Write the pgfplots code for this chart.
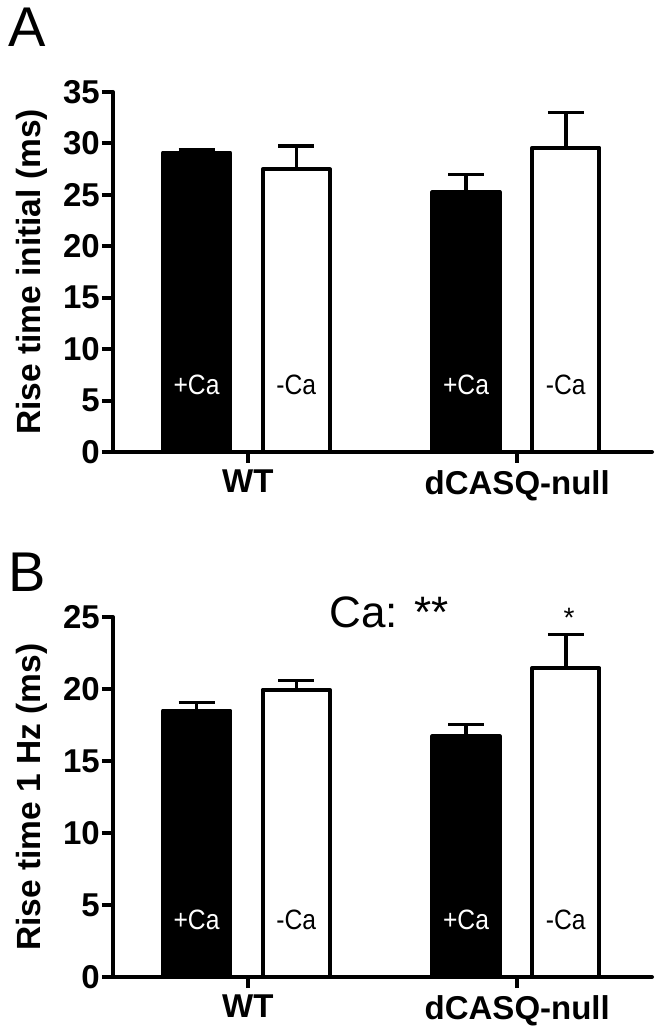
\documentclass[border=0pt]{standalone}
\usepackage{fontspec}
\setmainfont{Liberation Sans}
\newfontfamily\narrowfont[FakeStretch=0.88]{Liberation Sans}
\usepackage{pgfplots}
\pgfplotsset{compat=1.18}
\pgfplotsset{
  mybars/.style={
    width=539pt, height=360pt, scale only axis,
    xmin=0, xmax=4, ymin=0,
    axis lines=left,
    axis line style={-, line width=4pt, line cap=round},
    every outer x axis line/.append style={-},
    every outer y axis line/.append style={-},
    xtick={1,3}, xticklabels={WT, dCASQ-null},
    tick align=outside,
    major tick length=11pt,
    tick style={line width=4pt, black},
    /pgf/number format/assume math mode=true,
    ticklabel style={font=\fontsize{33}{33}\selectfont\bfseries},
    yticklabel style={inner sep=2pt},
    xticklabel style={inner sep=2pt, yshift=-5pt},
    label style={font=\fontsize{33.5}{33.5}\selectfont\bfseries},
    ylabel style={at={(axis description cs:-0.150,0.5)}, anchor=center},
    ybar, bar width=0.5,
    clip=false,
  },
  blackbar/.style={bar shift=0pt, fill=black, draw=black, line width=4pt, line join=round,
    error bars/.cd, y dir=plus, y explicit,
    error bar style={line width=3.5pt, black},
    error mark options={rotate=90, line width=3.5pt, mark size=18pt, black}},
  whitebar/.style={bar shift=0pt, fill=white, draw=black, line width=4pt, line join=round,
    error bars/.cd, y dir=plus, y explicit,
    error bar style={line width=3.5pt, black},
    error mark options={rotate=90, line width=3.5pt, mark size=18pt, black}},
}
\tikzset{inlab/.style={font=\narrowfont\fontsize{28}{28}\selectfont, inner sep=0pt}}
\begin{document}
\begin{tikzpicture}
\path[use as bounding box] (0,0) rectangle (666pt,1030pt);
% Panel A
\begin{axis}[mybars, at={(113pt,578pt)}, anchor=south west,
  ymax=35, ytick={0,5,...,35}, ylabel={Rise time initial (ms)}]
\addplot[blackbar] coordinates {(0.62,29.1) +- (0,0.25) (2.62,25.26) +- (0,1.72)};
\addplot[whitebar] coordinates {(1.36,27.47) +- (0,2.27) (3.36,29.58) +- (0,3.41)};
\node[inlab, white] at (axis cs:0.62,6.5) {+Ca};
\node[inlab, black] at (axis cs:1.36,6.5) {-Ca};
\node[inlab, white] at (axis cs:2.62,6.5) {+Ca};
\node[inlab, black] at (axis cs:3.36,6.5) {-Ca};
\end{axis}
% Panel B
\begin{axis}[mybars, at={(113pt,53pt)}, anchor=south west,
  ymax=25, ytick={0,5,...,25}, ylabel={Rise time 1 Hz (ms)}]
\addplot[blackbar] coordinates {(0.62,18.5) +- (0,0.55) (2.62,16.71) +- (0,0.81)};
\addplot[whitebar] coordinates {(1.36,19.95) +- (0,0.63) (3.36,21.44) +- (0,2.33)};
\node[inlab, white] at (axis cs:0.62,4.0) {+Ca};
\node[inlab, black] at (axis cs:1.36,4.0) {-Ca};
\node[inlab, white] at (axis cs:2.62,4.0) {+Ca};
\node[inlab, black] at (axis cs:3.36,4.0) {-Ca};
\node[font=\fontsize{44}{44}\selectfont, inner sep=0pt] at (axis cs:2.05,25.3) {Ca: **};
\node[font=\fontsize{28}{28}\selectfont, inner sep=0pt, anchor=north] at (axis cs:3.385,25.6) {*};
\end{axis}
\node[anchor=north west, inner sep=0pt, font=\fontsize{56}{56}\selectfont] at (8pt,1022pt) {A};
\node[anchor=north west, inner sep=0pt, font=\fontsize{56}{56}\selectfont] at (8pt,477pt) {B};
\end{tikzpicture}
\end{document}
